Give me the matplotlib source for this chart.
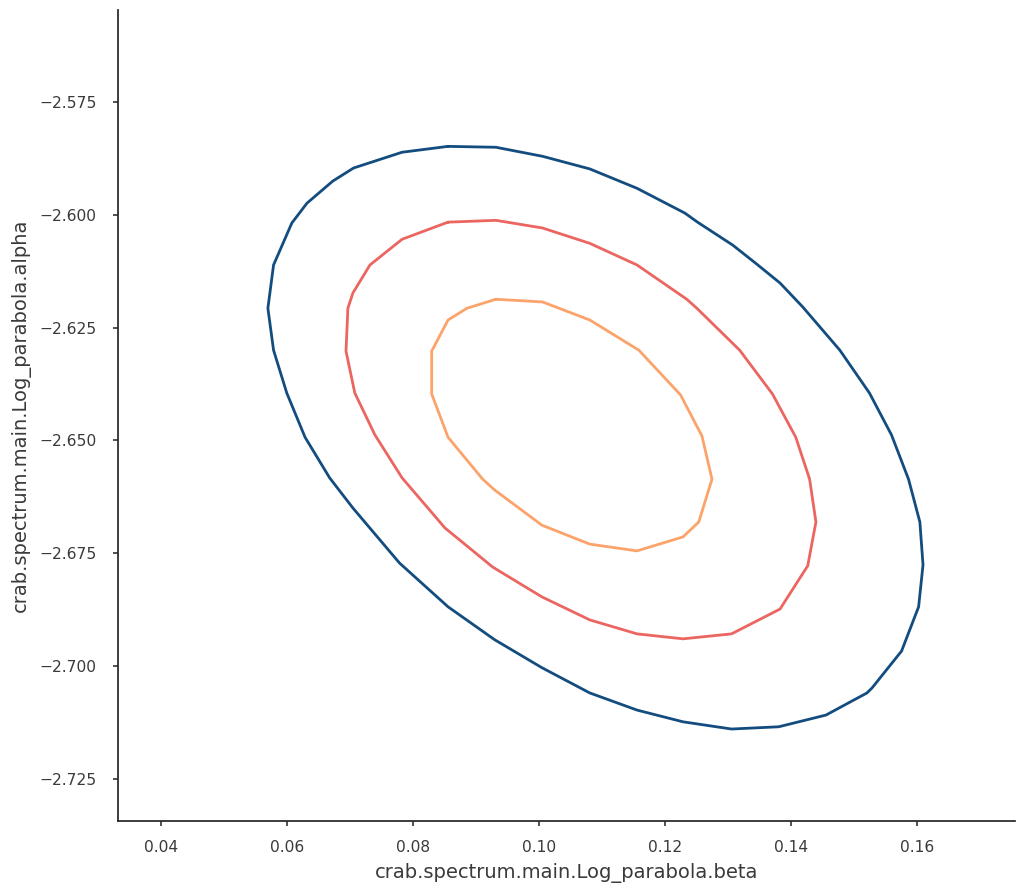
import numpy as np
import matplotlib
matplotlib.use("Agg")
import matplotlib.pyplot as plt
import seaborn as sns

# contour levels (beta, alpha)
beta_outer = [0.0856, 0.0932, 0.1006, 0.1081, 0.1156, 0.1232, 0.1252, 0.1308, 0.1346,
              0.1383, 0.1419, 0.1478, 0.1525, 0.1560, 0.1587, 0.1605, 0.1610, 0.1603,
              0.1576, 0.1529, 0.1521, 0.1456, 0.1381, 0.1306, 0.1229, 0.1156, 0.1081,
              0.1005, 0.0930, 0.0856, 0.0779, 0.0705, 0.0668, 0.0629, 0.0600, 0.0579,
              0.0570, 0.0579, 0.0608, 0.0632, 0.0673, 0.0706, 0.0783, 0.0856]
alpha_outer = [-2.5848, -2.5850, -2.5870, -2.5898, -2.5941, -2.5996, -2.6016, -2.6067, -2.6109,
               -2.6151, -2.6204, -2.6300, -2.6395, -2.6488, -2.6586, -2.6681, -2.6776, -2.6869,
               -2.6967, -2.7049, -2.7060, -2.7109, -2.7135, -2.7140, -2.7124, -2.7098, -2.7060,
               -2.7004, -2.6942, -2.6869, -2.6772, -2.6650, -2.6583, -2.6493, -2.6395, -2.6300,
               -2.6207, -2.6111, -2.6018, -2.5974, -2.5925, -2.5896, -2.5861, -2.5848]

beta_mid = [0.0856, 0.0932, 0.1006, 0.1081, 0.1156, 0.1235, 0.1251, 0.1319, 0.1371, 0.1408,
            0.1430, 0.1440, 0.1427, 0.1383, 0.1376, 0.1306, 0.1229, 0.1156, 0.1081, 0.1005,
            0.0927, 0.0851, 0.0783, 0.0740, 0.0708, 0.0694, 0.0697, 0.0705, 0.0732, 0.0783, 0.0856]
alpha_mid = [-2.6016, -2.6012, -2.6029, -2.6063, -2.6111, -2.6187, -2.6207, -2.6300, -2.6397, -2.6493,
             -2.6586, -2.6681, -2.6778, -2.6874, -2.6879, -2.6929, -2.6940, -2.6929, -2.6898, -2.6847,
             -2.6781, -2.6694, -2.6583, -2.6488, -2.6395, -2.6302, -2.6207, -2.6173, -2.6111, -2.6054, -2.6016]

beta_inner = [0.0932, 0.1006, 0.1081, 0.1159, 0.1225, 0.1259, 0.1275, 0.1254, 0.1229, 0.1156,
              0.1081, 0.1005, 0.0930, 0.0911, 0.0856, 0.0830, 0.0830, 0.0856, 0.0886, 0.0932]
alpha_inner = [-2.6187, -2.6193, -2.6233, -2.6300, -2.6399, -2.6490, -2.6586, -2.6681, -2.6714, -2.6745,
               -2.6730, -2.6688, -2.6610, -2.6586, -2.6493, -2.6397, -2.6302, -2.6233, -2.6207, -2.6187]

colors = ["#134c7f", "#eb6561", "#fca36b"]

sns.set_theme(style="ticks")
plt.rcParams['font.family'] = ['DejaVu Sans']

fig = plt.figure(figsize=(10.24, 8.93), dpi=100)
ax = fig.add_axes([0.1152, 0.0806, 0.876, 0.908])

for b, a, c in zip([beta_outer, beta_mid, beta_inner],
                   [alpha_outer, alpha_mid, alpha_inner], colors):
    ax.plot(b, a, color=c, lw=2.0)

ax.set_xlim(0.0332, 0.1756)
ax.set_ylim(-2.7344, -2.5546)
ax.set_xticks(np.arange(0.04, 0.161, 0.02))
ax.set_yticks([-2.575, -2.600, -2.625, -2.650, -2.675, -2.700, -2.725])
ax.tick_params(labelsize=11.2, colors="#3a3a3a", length=3.5)
ax.tick_params(axis="x", pad=10)
ax.tick_params(axis="y", pad=12)
ax.set_xlabel("crab.spectrum.main.Log_parabola.beta", fontsize=14, color="#3a3a3a", labelpad=6)
ax.set_ylabel("crab.spectrum.main.Log_parabola.alpha", fontsize=14, color="#3a3a3a", labelpad=6)
sns.despine(ax=ax)

fig.savefig("out.png", dpi=100)
